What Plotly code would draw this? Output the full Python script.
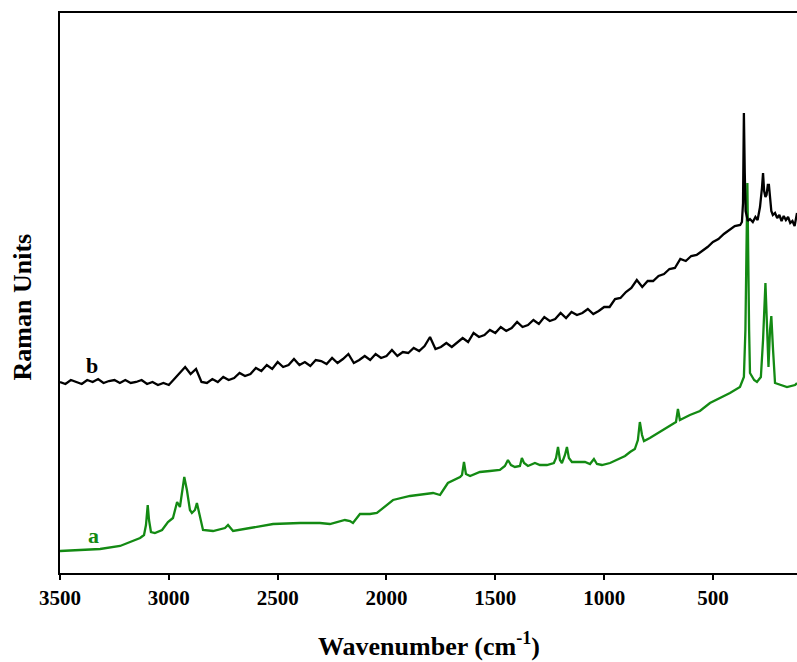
import plotly.graph_objects as go

# ---- data (wavenumber in cm-1, intensity in arbitrary Raman units) ----
a_wavenumber = [3500, 3316, 3224, 3132, 3114, 3105, 3097, 3091, 3082, 3064, 3031, 3004, 2981, 2962,
                2949, 2940, 2929, 2917, 2903, 2894, 2880, 2871, 2857, 2843, 2797, 2742, 2728, 2705,
                2627, 2521, 2397, 2306, 2260, 2191, 2168, 2154, 2122, 2076, 2044, 2007, 1970, 1892,
                1786, 1754, 1718, 1662, 1653, 1644, 1635, 1616, 1571, 1525, 1479, 1456, 1442, 1428,
                1410, 1387, 1378, 1368, 1350, 1318, 1295, 1263, 1231, 1221, 1212, 1203, 1194, 1180,
                1171, 1162, 1148, 1111, 1088, 1065, 1047, 1033, 1010, 973, 941, 904, 881, 859, 845,
                836, 826, 817, 790, 744, 698, 670, 661, 652, 606, 560, 514, 468, 422, 376, 358, 351,
                342, 334, 330, 311, 298, 280, 270, 259, 252, 245, 238, 232, 224, 215, 160, 123, 114]
a_intensity = [22, 24, 27, 35, 38, 48, 68, 53, 41, 40, 43, 51, 55, 71,
               66, 78, 96, 83, 63, 60, 63, 70, 58, 43, 42, 45, 48, 42,
               45, 49, 50, 50, 49, 53, 52, 50, 59, 59, 60, 67, 73, 77,
               80, 78, 90, 96, 98, 111, 99, 97, 101, 102, 103, 107, 113, 108,
               106, 107, 115, 110, 107, 110, 108, 108, 110, 115, 126, 113, 110, 118,
               126, 115, 111, 111, 111, 109, 114, 109, 108, 110, 113, 117, 121, 124, 133,
               151, 138, 132, 135, 141, 147, 151, 164, 153, 158, 162, 170, 175, 180, 186, 196, 243,
               390, 243, 200, 193, 191, 196, 233, 290, 243, 206, 243, 257, 223, 190, 186, 188, 190]

b_wavenumber = [3500, 3475, 3450, 3425, 3400, 3375, 3350, 3325, 3300, 3275, 3250, 3225, 3200, 3175,
                3150, 3125, 3100, 3075, 3050, 3025, 3000, 2975, 2950, 2925, 2900, 2875, 2850, 2825,
                2800, 2775, 2750, 2725, 2700, 2675, 2650, 2625, 2600, 2575, 2550, 2525, 2500, 2475,
                2450, 2425, 2400, 2375, 2350, 2325, 2300, 2275, 2250, 2225, 2200, 2175, 2150, 2125,
                2100, 2075, 2050, 2025, 2000, 1975, 1950, 1925, 1900, 1875, 1850, 1825, 1800, 1775,
                1750, 1725, 1700, 1675, 1650, 1625, 1600, 1575, 1550, 1525, 1500, 1475, 1450, 1425,
                1400, 1375, 1350, 1325, 1300, 1275, 1250, 1225, 1200, 1175, 1150, 1125, 1100, 1075,
                1050, 1025, 1000, 975, 950, 925, 900, 875, 850, 825, 800, 775, 750, 725, 700, 675,
                650, 625, 600, 575, 550, 525, 500, 475, 450, 425, 400, 375, 367, 362, 358, 354, 350,
                340, 330, 317, 305, 295, 284, 275, 270, 265, 259, 254, 248, 243, 237, 232, 225, 215,
                205, 195, 185, 175, 165, 155, 145, 135, 125, 114]
b_intensity = [191, 189, 193, 191, 189, 193, 191, 194, 190, 192, 193, 190, 193, 190,
               191, 193, 189, 191, 188, 190, 188, 194, 200, 206, 199, 204, 191, 190,
               194, 191, 196, 193, 195, 200, 197, 199, 205, 202, 208, 204, 211, 206,
               208, 214, 208, 211, 207, 213, 212, 209, 215, 210, 214, 219, 210, 213,
               217, 213, 219, 215, 217, 223, 217, 221, 220, 225, 222, 227, 236, 224,
               226, 230, 226, 231, 235, 231, 240, 236, 238, 243, 240, 246, 242, 245,
               251, 246, 248, 253, 249, 256, 252, 254, 260, 255, 261, 258, 260, 264,
               259, 262, 266, 266, 274, 275, 281, 285, 293, 286, 292, 292, 297, 299, 304, 305,
               314, 312, 317, 318, 322, 326, 331, 334, 339, 343, 347, 348, 351, 370, 460, 400, 362,
               352, 354, 351, 356, 353, 366, 385, 400, 382, 376, 378, 388, 388, 375, 362, 358, 360,
               355, 358, 352, 357, 353, 356, 350, 352, 347, 360]

x_ticks = [3500, 3000, 2500, 2000, 1500, 1000, 500]

GREEN = "#138a13"
FONT = "Liberation Serif"

fig = go.Figure()
fig.add_trace(go.Scatter(x=a_wavenumber, y=a_intensity, mode="lines",
                         line=dict(color=GREEN, width=2.3), showlegend=False))
fig.add_trace(go.Scatter(x=b_wavenumber, y=b_intensity, mode="lines",
                         line=dict(color="#000000", width=2.3), showlegend=False))

fig.update_layout(
    width=797, height=662,
    margin=dict(l=60, r=0, t=13, b=89),
    paper_bgcolor="white", plot_bgcolor="white",
    font=dict(family=FONT, color="black"),
    xaxis=dict(range=[3500, 114], tickvals=x_ticks, ticktext=[str(t) for t in x_ticks],
               showgrid=False, zeroline=False, showline=True, linecolor="black", linewidth=2,
               mirror=True, ticks="outside", ticklen=5, tickwidth=2, tickcolor="black",
               tickfont=dict(family=FONT, size=21, color="black", weight="bold")),
    yaxis=dict(range=[0, 560], showticklabels=False, ticks="", showgrid=False, zeroline=False,
               showline=True, linecolor="black", linewidth=2),
    annotations=[
        dict(text="<b>Wavenumber (cm<sup>-1</sup>)</b>", xref="paper", yref="paper",
             x=0.5, y=-0.127, xanchor="center", yanchor="middle", showarrow=False,
             font=dict(family=FONT, size=26, color="black")),
        dict(text="<b>Raman Units</b>", xref="paper", yref="paper", textangle=-90,
             x=-0.051, y=0.475, xanchor="center", yanchor="middle", showarrow=False,
             font=dict(family=FONT, size=26, color="black")),
        dict(text="<b>b</b>", x=3353, y=208, xref="x", yref="y", showarrow=False,
             xanchor="center", yanchor="middle", font=dict(family=FONT, size=22, color="black")),
        dict(text="<b>a</b>", x=3345, y=38, xref="x", yref="y", showarrow=False,
             xanchor="center", yanchor="middle", font=dict(family=FONT, size=22, color=GREEN)),
    ],
)

fig.write_html("out.html")
